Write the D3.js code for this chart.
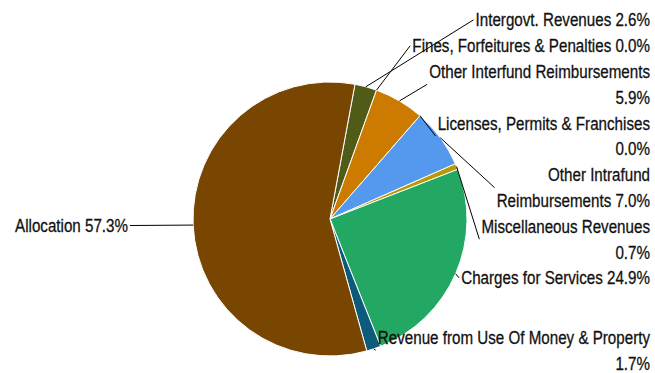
<!DOCTYPE html>
<html>
<head>
<meta charset="utf-8">
<script src="https://cdn.jsdelivr.net/npm/d3@7"></script>
<style>
  html, body { margin: 0; padding: 0; background: #fff; }
  text { font-family: "Liberation Sans", Arial, sans-serif; fill: #111; stroke: #111; stroke-width: 0.3px; }
</style>
</head>
<body>
<div id="chart"></div>
<script>
// slice order, clockwise from the top
const categories = [
  "Intergovt. Revenues",
  "Fines, Forfeitures & Penalties",
  "Other Interfund Reimbursements",
  "Licenses, Permits & Franchises",
  "Other Intrafund Reimbursements",
  "Miscellaneous Revenues",
  "Charges for Services",
  "Revenue from Use Of Money & Property",
  "Allocation"
];
const shares = [2.6, 0.0, 5.9, 0.0, 7.0, 0.7, 24.9, 1.7, 57.3];
const colors = ["#4f5b16", "#888888", "#cc7b00", "#888888", "#5599ee", "#b89a05", "#22a862", "#0d5b7a", "#784600"];

document.addEventListener("DOMContentLoaded", function () {
  const width = 655;
  const height = 373;
  const cx = 330, cy = 219, radius = 137;
  const fontSize = 18.5;
  const squeeze = 0.82;   // narrow face: squeeze a regular one
  const lineH = 25.8;
  const rightEdge = 650;
  const startAngle = 10.5 * Math.PI / 180;

  const svg = d3.select("#chart").append("svg")
    .attr("width", width)
    .attr("height", height);

  const data = categories.map((name, i) => ({ name: name, share: shares[i], color: colors[i] }));

  const pie = d3.pie()
    .sort(null)
    .value(d => d.share)
    .startAngle(startAngle)
    .endAngle(startAngle + 2 * Math.PI);
  const arcs = pie(data);
  const arc = d3.arc().innerRadius(0).outerRadius(radius);

  const g = svg.append("g").attr("transform", `translate(${cx},${cy})`);
  g.selectAll("path")
    .data(arcs.filter(d => d.data.share > 0))
    .enter()
    .append("path")
    .attr("d", arc)
    .attr("fill", d => d.data.color)
    .attr("stroke", "#fff")
    .attr("stroke-width", 1);

  // measuring helper
  const meas = svg.append("text").attr("font-size", fontSize).attr("visibility", "hidden");
  const textW = s => { meas.text(s); return meas.node().getComputedTextLength() * squeeze; };

  function wrap(str, maxW) {
    const words = str.split(" ");
    const lines = [];
    let cur = words[0];
    for (let i = 1; i < words.length; i++) {
      const t = cur + " " + words[i];
      if (textW(t) <= maxW) cur = t;
      else { lines.push(cur); cur = words[i]; }
    }
    lines.push(cur);
    return lines;
  }

  const labels = arcs.map(d => {
    const mid = (d.startAngle + d.endAngle) / 2;
    const right = Math.sin(mid) > 0;
    const rNat = radius + 10;
    const natX = cx + rNat * Math.sin(mid);
    const natY = cy - rNat * Math.cos(mid);
    const str = `${d.data.name} ${d.data.share.toFixed(1)}%`;
    const lines = right ? wrap(str, 656 - natX) : [str];
    return {
      mid: mid, right: right, target: natY, lines: lines,
      size: lines.length * lineH,
      widthMax: d3.max(lines, textW)
    };
  });
  meas.remove();

  // push overlapping labels apart, clamp to the plot
  function distribute(items, minY, maxY) {
    items.sort((a, b) => a.target - b.target);
    let groups = items.map(d => ({ members: [d] }));
    const place = grp => {
      let off = 0, sw = 0, acc = 0;
      grp.members.forEach(m => {
        m.off = off + m.size / 2;
        acc += m.size * (m.target - m.off);
        sw += m.size;
        off += m.size;
      });
      grp.size = off;
      grp.top = Math.max(minY, Math.min(maxY - off, acc / sw));
    };
    groups.forEach(place);
    let merged = true;
    while (merged) {
      merged = false;
      for (let i = 0; i < groups.length - 1; i++) {
        if (groups[i].top + groups[i].size > groups[i + 1].top) {
          groups[i].members = groups[i].members.concat(groups[i + 1].members);
          groups.splice(i + 1, 1);
          place(groups[i]);
          merged = true;
          break;
        }
      }
    }
    groups.forEach(grp => grp.members.forEach(m => { m.y = grp.top + m.off; }));
  }
  distribute(labels.filter(d => d.right), 7, 376);
  distribute(labels.filter(d => !d.right), 7, 376);

  const lg = svg.append("g");
  labels.forEach(l => {
    const ex = cx + radius * Math.sin(l.mid);
    const ey = cy - radius * Math.cos(l.mid);
    const top = l.y - l.size / 2;
    let tx, endX;
    if (l.right) {
      tx = rightEdge;
      endX = rightEdge - l.widthMax - 2;
    } else {
      tx = cx - radius - 65;
      endX = tx + 2;
    }
    lg.append("path")
      .attr("d", d3.line()([[ex, ey], [endX, l.y]]))
      .attr("fill", "none")
      .attr("stroke", "#000")
      .attr("stroke-width", 1);
    const t = lg.append("text")
      .attr("font-size", fontSize)
      .attr("text-anchor", "end")
      .attr("transform", `translate(${tx},0) scale(${squeeze},1)`);
    l.lines.forEach((s, i) => {
      t.append("tspan")
        .attr("x", 0)
        .attr("y", top + lineH * (i + 0.5))
        .attr("dy", "0.35em")
        .text(s);
    });
  });
});
</script>
</body>
</html>
